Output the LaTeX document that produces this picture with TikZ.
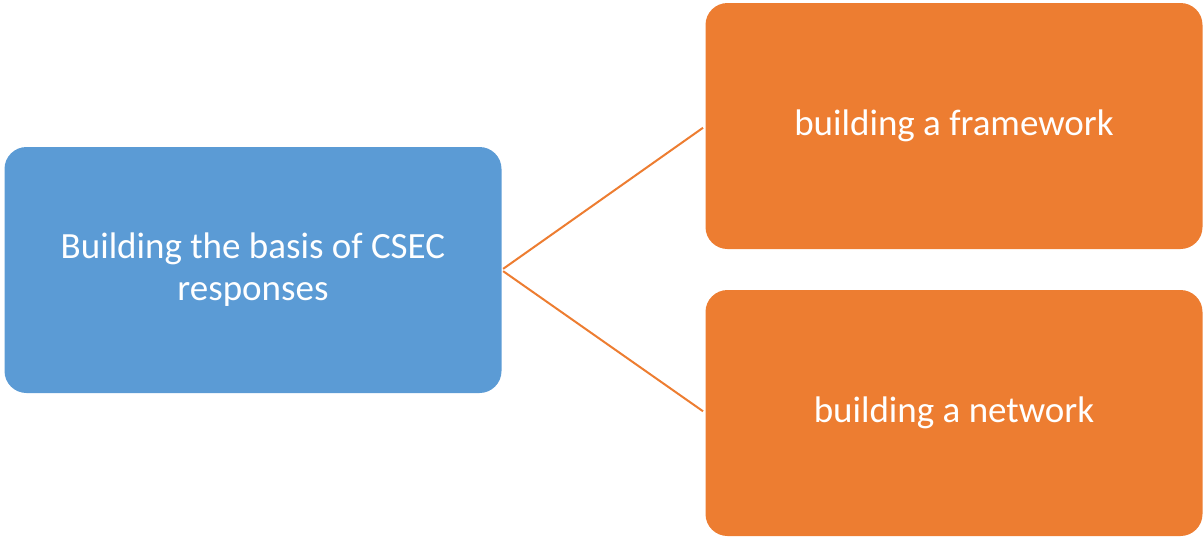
\documentclass[tikz,border=0pt]{standalone}
\usepackage{fontspec}
\setmainfont{Carlito}
\usepackage{tikz}
\usetikzlibrary{positioning}

\definecolor{basisblue}{HTML}{5B9BD5}
\definecolor{branchorange}{HTML}{ED7D31}

\begin{document}
\begin{tikzpicture}[x=1pt,y=-1pt,
    box/.style={rectangle,rounded corners=22pt,inner sep=0pt,outer sep=0pt,
                minimum width=497pt,minimum height=246pt,text=white,align=center,
                font=\fontsize{37}{42}\selectfont},
    link/.style={branchorange,line width=2pt,shorten <=2pt,shorten >=3pt}]
\useasboundingbox (0,0) rectangle (1204,539);
\path (253, 270) node[box,fill=basisblue] (basis) {Building the basis of CSEC\\responses};
\path (954, 126) node[box,fill=branchorange] (frame) {building a framework};
\path (954, 413) node[box,fill=branchorange] (net) {building a network};
\draw[link] (basis.east) -- (frame.west);
\draw[link] (basis.east) -- (net.west);
\end{tikzpicture}
\end{document}
